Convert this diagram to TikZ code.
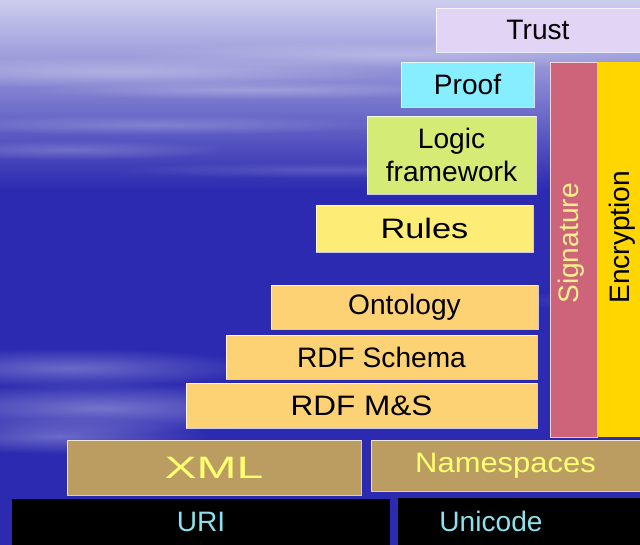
\documentclass[tikz,border=0pt]{standalone}
\usepackage{fontspec}
\setmainfont{Liberation Sans}
\usepackage{graphicx}
\usetikzlibrary{fadings}

\definecolor{skyblue}{RGB}{44,42,176}
\definecolor{skytop}{RGB}{205,205,238}
\definecolor{trustfill}{RGB}{226,212,245}
\definecolor{prooffill}{RGB}{135,238,255}
\definecolor{logicfill}{RGB}{212,236,118}
\definecolor{rulesfill}{RGB}{253,236,118}
\definecolor{rdffill}{RGB}{253,210,116}
\definecolor{sigfill}{RGB}{205,100,122}
\definecolor{sigtext}{RGB}{248,240,140}
\definecolor{encfill}{RGB}{255,214,0}
\definecolor{xmlfill}{RGB}{187,157,98}
\definecolor{xmltext}{RGB}{255,255,112}
\definecolor{uritext}{RGB}{140,226,236}

\tikzfading[name=soft streak, inner color=transparent!0, outer color=transparent!100]

\newcommand{\px}{0.025cm}
\newcommand{\wide}[2]{\scalebox{#1}[1]{#2}}

\begin{document}
\begin{tikzpicture}[
    x=0.025cm, y=-0.025cm,
    layer/.style={rectangle, inner sep=0pt, draw=white, draw opacity=0.75, line width=0.5pt,
        font=\fontsize{20}{23}\selectfont, align=center},
    upper/.style={layer, text=black},
    base/.style={layer, fill=xmlfill, text=xmltext},
    ground/.style={layer, fill=black, draw=none, text=uritext},
    vtext/.style={rotate=90, anchor=west, inner sep=0pt, font=\fontsize{20}{23}\selectfont},
    streak/.style={white, path fading=soft streak}
]

% Background
\useasboundingbox (0,0) rectangle (640,545);
\fill[skyblue] (0,0) rectangle (640,545);
\shade[top color=skytop, bottom color=skyblue] (0,0) rectangle (640,190);
\fill[streak, opacity=0.30] (120,72) ellipse (280 and 16);
\fill[streak, opacity=0.25] (400,55) ellipse (280 and 14);
\fill[streak, opacity=0.20] (150,125) ellipse (240 and 10);
\fill[streak, opacity=0.25] (250,90) ellipse (220 and 9);
\fill[streak, opacity=0.20] (70,150) ellipse (160 and 10);
\fill[streak, opacity=0.15] (330,170) ellipse (220 and 8);
\fill[streak, opacity=0.30] (70,368) ellipse (190 and 20);
\fill[streak, opacity=0.35] (100,408) ellipse (220 and 26);
\fill[streak, opacity=0.30] (60,436) ellipse (150 and 18);
\fill[streak, opacity=0.15] (620,300) ellipse (110 and 10);

% Top layers
\node[upper, fill=trustfill, minimum width=204*\px, minimum height=44*\px] (trust) at (538,30) {Trust};
\node[upper, fill=prooffill, minimum width=133*\px, minimum height=45*\px] (proof) at (467.5,84.5) {Proof};
\node[upper, fill=logicfill, minimum width=169*\px, minimum height=78*\px] (logic) at (451.5,155) {Logic\\framework};
\node[upper, fill=rulesfill, minimum width=217*\px, minimum height=47*\px] (rules) at (424.5,228.5) {\wide{1.22}{Rules}};

% Security columns
\node[layer, fill=sigfill, minimum width=47*\px, minimum height=375*\px] (sig) at (573.5,249.5) {};
\node[layer, fill=encfill, draw=none, minimum width=43*\px, minimum height=375*\px] (enc) at (618.5,249.5) {};
\node[vtext, text=sigtext] (siglabel) at (571,304) {Signature};
\node[vtext, text=black] (enclabel) at (622,304) {Encryption};

% RDF layers
\node[upper, fill=rdffill, minimum width=267*\px, minimum height=44*\px] (onto) at (404.5,307) {Ontology};
\node[upper, fill=rdffill, minimum width=311*\px, minimum height=44*\px] (rdfs) at (381.5,357) {RDF Schema};
\node[upper, fill=rdffill, minimum width=351*\px, minimum height=45*\px] (rdfms) at (361.5,405.5) {\wide{1.12}{RDF M\&S}};

% XML and namespaces
\node[base, minimum width=294*\px, minimum height=55*\px] (xml) at (214,467.5) {\fontsize{22}{24}\selectfont\wide{1.55}{XML}};
\node[base, minimum width=269*\px, minimum height=51*\px] (ns) at (505.5,465.5) {\wide{1.1}{Namespaces}};

% URI and Unicode
\node[ground, minimum width=378*\px, minimum height=46*\px] (uri) at (201,522) {URI};
\node[ground, minimum width=242*\px, minimum height=47*\px] (uni) at (519,521.5) {Unicode\hspace*{1.4cm}};

\end{tikzpicture}
\end{document}
